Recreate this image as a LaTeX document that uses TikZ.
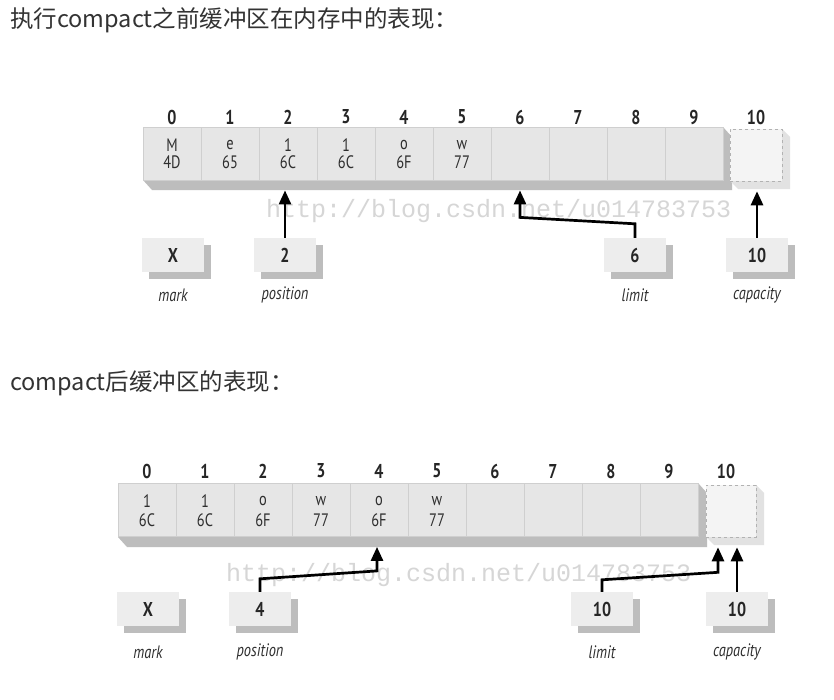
\documentclass[tikz,border=0pt]{standalone}
\usepackage{fontspec}
\newfontfamily\cjk{Noto Sans CJK SC}
\newfontfamily\dg[FakeStretch=0.8]{PT Sans}
\newfontfamily\wmf{Liberation Mono}
\usetikzlibrary{arrows.meta,shadows,calc}
\definecolor{cellfill}{HTML}{E6E6E6}
\definecolor{cellline}{HTML}{CFCFCF}
\definecolor{shadowgray}{HTML}{BDBDBD}
\definecolor{lightshadow}{HTML}{E2E2E2}
\definecolor{emptyfill}{HTML}{F4F4F4}
\definecolor{boxfill}{HTML}{EDEDED}
\definecolor{hdr}{HTML}{333333}
\definecolor{txt}{HTML}{2E2E2E}
\definecolor{wm}{HTML}{D6D6D6}
\tikzset{
  cellbox/.style={rectangle,fill=cellfill,draw=cellline,line width=0.8pt,minimum width=58pt,minimum height=53pt,inner sep=0pt},
  emptybox/.style={rectangle,fill=emptyfill,draw=gray!60,dashed,line width=0.6pt,minimum width=52pt,minimum height=52pt,inner sep=0pt},
  idx/.style={font=\dg\bfseries\fontsize{20}{20}\selectfont,text=black!85,inner sep=0pt},
  ctxt/.style={font=\dg\fontsize{18}{18}\selectfont,text=txt,inner sep=0pt},
  ptrbox/.style={rectangle,fill=boxfill,minimum width=62pt,minimum height=34pt,inner sep=0pt,
     font=\dg\bfseries\fontsize{20}{20}\selectfont,text=black!85,
     drop shadow={shadow xshift=7pt,shadow yshift=-7pt,fill=shadowgray,opacity=1}},
  lbl/.style={font=\dg\itshape\fontsize{18}{18}\selectfont,text=txt,inner sep=0pt},
  ptr/.style={line width=2.7pt,black,-{Triangle[length=14pt,width=12pt]}},
  hdrtxt/.style={font=\cjk\fontsize{23.5}{23.5}\selectfont,text=hdr,anchor=west,inner sep=0pt},
  wmtxt/.style={font=\wmf\fontsize{25}{25}\selectfont,text=wm,anchor=west,inner sep=0pt}
}
\begin{document}
\begin{tikzpicture}[x=1pt,y=-1pt]
\useasboundingbox (0,0) rectangle (834,699);
\fill[white] (0,0) rectangle (834,699);

% headers
\node[hdrtxt] (h1) at (10,20) {执行compact之前缓冲区在内存中的表现：};
\node[hdrtxt] (h2) at (10,383) {compact后缓冲区的表现：};

% ===== top buffer =====
\fill[shadowgray] (143,180) -- (152,190) -- (732,190) -- (732,137) -- (723,127) -- (723,180) -- cycle;
\fill[lightshadow] (730,181) -- (738,189) -- (790,189) -- (790,137) -- (782,129) -- (782,181) -- cycle;
\foreach \i/\a/\b in {0/M/4D,1/e/65,2/1/6C,3/1/6C,4/o/6F,5/w/77,6//,7//,8//,9//}{
  \node[cellbox] (t\i) at ({172+58*\i},153.5) {};
  \node[idx] (ti\i) at ({172+58*\i},117) {\i};
  \node[ctxt] (ta\i) at ({172+58*\i},145) {\a};
  \node[ctxt] (tb\i) at ({172+58*\i},162) {\b};
}
\node[emptybox] (t10) at (756,155) {};
\node[idx] (ti10) at (756,117) {10};
\foreach \i in {0,...,10}{ \coordinate (tb\i) at ($(t\i.south)+(0,10)$); }

% watermark
\node[wmtxt] (wm1) at (266,211) {http://blog.csdn.net/u014783753};

% pointer boxes
\node[ptrbox] (mark1) at (173,255) {X};
\node[ptrbox] (pos1) at (285,255) {2};
\node[ptrbox] (lim1) at (635,255) {6};
\node[ptrbox] (cap1) at (757,255) {10};
\node[lbl] (lm1) at (173,295) {mark};
\node[lbl] (lp1) at (285,295) {position};
\node[lbl] (ll1) at (635,295) {limit};
\node[lbl] (lc1) at (757,295) {capacity};

\draw[ptr] (pos1.north) -- (pos1.north |- tb2);
\draw[ptr] (lim1.north) -- ++(0,-14) -- ($(tb6)+(0,27)$) -- (tb6);
\draw[ptr] (cap1.north) -- (cap1.north |- tb10);

% ===== bottom buffer =====
\fill[shadowgray] (118,537) -- (127,547) -- (707,547) -- (707,493) -- (698,483) -- (698,537) -- cycle;
\fill[lightshadow] (706,537) -- (714,545) -- (764,545) -- (764,493) -- (756,485) -- (756,537) -- cycle;
\foreach \i/\a/\b in {0/1/6C,1/1/6C,2/o/6F,3/w/77,4/o/6F,5/w/77,6//,7//,8//,9//}{
  \node[cellbox] (s\i) at ({147+58*\i},510) {};
  \node[idx] (si\i) at ({147+58*\i},471) {\i};
  \node[ctxt] (sa\i) at ({147+58*\i},501) {\a};
  \node[ctxt] (sb\i) at ({147+58*\i},520) {\b};
}
\node[emptybox,minimum width=50pt] (s10) at (731,511) {};
\node[idx] (si10) at (726,471) {10};
\foreach \i in {0,...,10}{ \coordinate (sb\i) at ($(s\i.south)+(0,10)$); }

\node[wmtxt] (wm2) at (226,575) {http://blog.csdn.net/u014783753};

\node[ptrbox] (mark2) at (148,609) {X};
\node[ptrbox] (pos2) at (260,609) {4};
\node[ptrbox] (lim2) at (602,609) {10};
\node[ptrbox] (cap2) at (737,609) {10};
\node[lbl] (lm2) at (148,652) {mark};
\node[lbl] (lp2) at (260,652) {position};
\node[lbl] (ll2) at (602,652) {limit};
\node[lbl] (lc2) at (737,652) {capacity};

\draw[ptr] (pos2.north) -- ++(0,-13) -- ($(sb4)+(-2,24)$) -- ($(sb4)+(-2,0)$);
\draw[ptr] (lim2.north) -- ++(0,-12) -- ($(sb10)+(-13,25)$) -- ($(sb10)+(-13,0)$);
\draw[ptr] (cap2.north) -- (cap2.north |- sb10);
\end{tikzpicture}
\end{document}
